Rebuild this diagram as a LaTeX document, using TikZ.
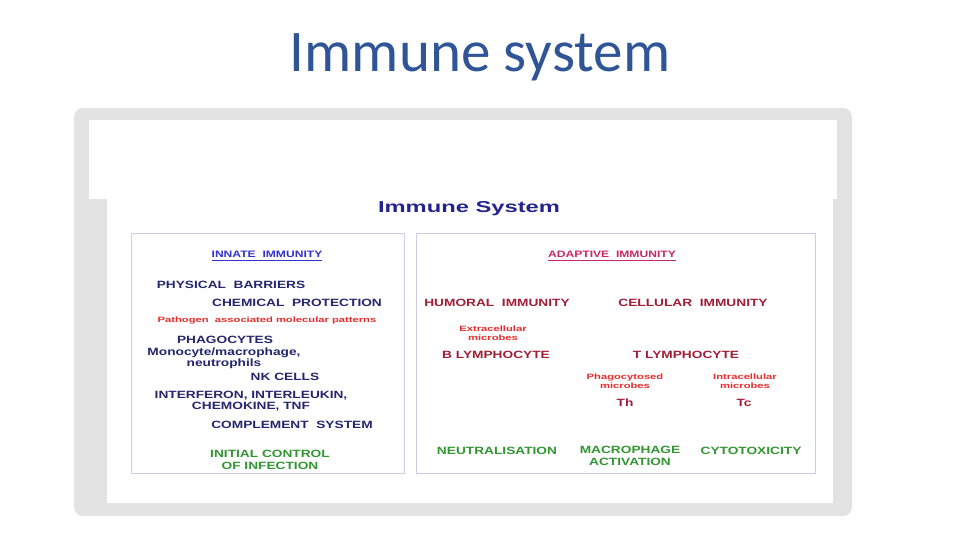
\documentclass[tikz,border=0pt]{standalone}
\usepackage{fontspec}
\setmainfont{Liberation Sans}
\newfontfamily\titlefont{Carlito}
\newfontfamily\widefont[FakeStretch=1.3]{Liberation Sans}
\newfontfamily\tinyfont[FakeStretch=1.45]{Liberation Sans}
\newfontfamily\headfont[FakeStretch=1.5]{Liberation Sans}
\usetikzlibrary{positioning}
\definecolor{slideblue}{RGB}{47,85,151}
\definecolor{framegrey}{RGB}{227,227,227}
\definecolor{panelline}{RGB}{205,205,235}
\definecolor{navytxt}{RGB}{38,38,112}
\definecolor{innateblue}{RGB}{51,51,204}
\definecolor{adaptred}{RGB}{200,40,100}
\definecolor{maroontxt}{RGB}{160,30,55}
\definecolor{microred}{RGB}{230,45,45}
\definecolor{outgreen}{RGB}{50,150,50}

\begin{document}
\begin{tikzpicture}[
    x=0.02cm, y=-0.02cm,
    item/.style={inner sep=0pt, align=center, font=\widefont\bfseries\fontsize{6}{6.5}\selectfont},
    innate/.style={item, text=navytxt},
    adapt/.style={item, text=maroontxt},
    outcome/.style={item, text=outgreen},
    micro/.style={inner sep=0pt, align=center, text=microred, font=\tinyfont\bfseries\fontsize{4.4}{5.1}\selectfont},
    panel/.style={rectangle, draw=panelline, line width=0.5pt, anchor=north west, minimum height=4.8cm}
]
\useasboundingbox (0,0) rectangle (960,540);

% Slide title
\node[font=\titlefont\fontsize{33.6}{36}\selectfont, text=slideblue] (title) at (480,57) {Immune system};

% Picture frame
\fill[framegrey, rounded corners=5] (74,108) rectangle (852,516);
\fill[white] (89,120) rectangle (837,199);
\fill[white] (107,199) rectangle (833,503);

% Panels
\node[panel, minimum width=5.46cm] (innbox) at (131,233) {};
\node[panel, minimum width=7.98cm] (adbox) at (416,233) {};

% Heading
\node[inner sep=0pt, text=innateblue!70!black, font=\headfont\bfseries\fontsize{9}{10}\selectfont] (sys) at (469,209) {Immune System};

% Innate immunity
\node[item, text=innateblue, font=\widefont\bfseries\fontsize{5.3}{6}\selectfont] (inn) at (267,256) {\underline{INNATE\ \ IMMUNITY}};
\node[innate] (phys) at (231,285) {PHYSICAL\ \ BARRIERS};
\node[innate] (chem) at (297,303) {CHEMICAL\ \ PROTECTION};
\node[micro] (pamp) at (267,321) {Pathogen\ \ associated\ molecular\ patterns};
\node[innate] (phago) at (225,340) {PHAGOCYTES};
\node[innate] (mono) at (224,358) {Monocyte/macrophage,\\neutrophils};
\node[innate] (nk) at (285,377) {NK CELLS};
\node[innate] (cyto) at (251,401) {INTERFERON, INTERLEUKIN,\\CHEMOKINE, TNF};
\node[innate] (comp) at (292,425) {COMPLEMENT\ \ SYSTEM};
\node[outcome] (init) at (270,460) {INITIAL CONTROL\\OF INFECTION};

% Adaptive immunity
\node[item, text=adaptred, font=\widefont\bfseries\fontsize{5.3}{6}\selectfont] (adap) at (612,256) {\underline{ADAPTIVE\ \ IMMUNITY}};
\node[adapt] (hum) at (497,303) {HUMORAL\ \ IMMUNITY};
\node[adapt] (cell) at (693,303) {CELLULAR\ \ IMMUNITY};
\node[micro] (extra) at (493,333) {Extracellular\\microbes};
\node[adapt] (blym) at (496,355) {B LYMPHOCYTE};
\node[adapt] (tlym) at (686,355) {T LYMPHOCYTE};
\node[micro] (phmic) at (625,381) {Phagocytosed\\microbes};
\node[micro] (inmic) at (745,381) {Intracellular\\microbes};
\node[adapt] (th) at (625,403) {Th};
\node[adapt] (tc) at (744,403) {Tc};

% Effector functions
\node[outcome] (neut) at (497,451) {NEUTRALISATION};
\node[outcome] (mact) at (630,456) {MACROPHAGE\\ACTIVATION};
\node[outcome] (ctox) at (751,451) {CYTOTOXICITY};

\end{tikzpicture}
\end{document}
